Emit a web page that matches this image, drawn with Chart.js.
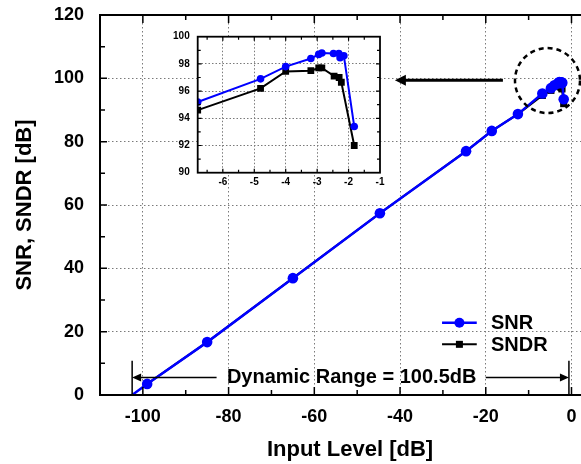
<!DOCTYPE html>
<html><head><meta charset="utf-8">
<script src="https://cdn.jsdelivr.net/npm/chart.js@4.4.1/dist/chart.umd.min.js"></script>
<style>
html,body{margin:0;padding:0;background:#fff;overflow:hidden;width:581px;height:464px;}
#wrap{position:relative;width:581px;height:464px;overflow:hidden;}
#main{position:absolute;left:0;top:0;}
#inset{position:absolute;left:150px;top:25px;}
</style></head><body>
<div id="wrap"><canvas id="main" width="640" height="464"></canvas><canvas id="inset" width="240" height="170"></canvas></div>
<script>
// ---- data ----
const snrLevel  = [-102.5, -99, -85, -65, -44.7, -24.6, -18.6, -12.5, -6.8, -4.8, -4.0, -3.2, -2.95, -2.85, -2.48, -2.31, -2.27, -2.15, -1.82];
const snrValue  = [0, 3.5, 16.7, 36.9, 57.4, 77.0, 83.4, 88.7, 95.2, 96.9, 97.8, 98.4, 98.7, 98.8, 98.77, 98.77, 98.45, 98.6, 93.4];
const sndrLevel = [-99, -85, -65, -44.7, -24.6, -18.6, -12.5, -6.8, -4.8, -4.0, -3.2, -2.95, -2.85, -2.46, -2.3, -2.23, -1.82];
const sndrValue = [3.5, 16.7, 36.9, 57.4, 77.0, 83.4, 88.7, 94.6, 96.2, 97.45, 97.5, 97.7, 97.7, 97.1, 97.0, 96.65, 92.0];
const mainXTicks = [-100, -80, -60, -40, -20, 0];
const mainYTicks = [0, 20, 40, 60, 80, 100, 120];
const insetXTicks = [-6, -5, -4, -3, -2, -1];
const insetYTicks = [90, 92, 94, 96, 98, 100];
const seriesNames = ['SNR', 'SNDR'];
const axisTitles = {x: 'Input Level [dB]', y: 'SNR, SNDR [dB]'};
const rangeText = 'Dynamic Range = 100.5dB';

const FONT = "'Liberation Sans', Arial, sans-serif";
Chart.defaults.font.family = FONT;
Chart.defaults.color = '#000';
const BLUE = '#0000ff';
const GRID = '#7a7a7a';
const pts = (xs, ys) => xs.map((x, i) => ({x, y: ys[i]}));
const setTicks = list => s => { s.ticks = list.map(v => ({value: v})); };
const fixW = w => s => { s.width = w; s.paddingTop = 0; s.paddingBottom = 0; s.paddingLeft = 0; s.paddingRight = 0; };
const fixH = h => s => { s.height = h; s.paddingTop = 0; s.paddingBottom = 0; s.paddingLeft = 0; s.paddingRight = 0; };

function arrowH(ctx, x1, x2, y, head, half, lw) {
  const dir = Math.sign(x2 - x1);
  ctx.lineWidth = lw;
  ctx.beginPath(); ctx.moveTo(x1, y); ctx.lineTo(x2 - dir * head * 0.8, y); ctx.stroke();
  ctx.beginPath(); ctx.moveTo(x2, y); ctx.lineTo(x2 - dir * head, y - half); ctx.lineTo(x2 - dir * head, y + half); ctx.closePath(); ctx.fill();
}

const mainDeco = {
  id: 'mainDeco',
  afterDatasetsDraw(chart) {
    const {ctx, chartArea: a, scales: {x, y}} = chart;
    ctx.save();
    ctx.strokeStyle = '#000'; ctx.fillStyle = '#000';
    ctx.lineWidth = 2;
    ctx.strokeRect(a.left, a.top, a.right - a.left, a.bottom - a.top);
    ctx.lineWidth = 1.5;
    ctx.beginPath();
    for (let v = -100; v <= 0; v += 10) {
      const px = x.getPixelForValue(v);
      const len = v % 20 === 0 ? 8 : 5;
      ctx.moveTo(px, a.bottom); ctx.lineTo(px, a.bottom - len);
      ctx.moveTo(px, a.top); ctx.lineTo(px, a.top + len);
    }
    for (let v = 10; v <= 110; v += 10) {
      const py = y.getPixelForValue(v);
      const len = v % 20 === 0 ? 7 : 5;
      ctx.moveTo(a.left, py); ctx.lineTo(a.left + len, py);
      ctx.moveTo(a.right, py); ctx.lineTo(a.right - len, py);
    }
    ctx.stroke();

    // dynamic range annotation
    const yDR = y.getPixelForValue(5.5);
    const yTop = y.getPixelForValue(10.8);
    const xL = x.getPixelForValue(-102.5), xR = x.getPixelForValue(-0.6);
    ctx.lineWidth = 1.5;
    ctx.beginPath();
    ctx.moveTo(xL, yTop); ctx.lineTo(xL, a.bottom);
    ctx.moveTo(xR, yTop); ctx.lineTo(xR, a.bottom);
    ctx.stroke();
    arrowH(ctx, x.getPixelForValue(-82.8), xL, yDR, 9, 4, 1.5);
    arrowH(ctx, x.getPixelForValue(-20), xR, yDR, 9, 4, 1.5);
    ctx.font = 'bold 20px ' + FONT;
    ctx.textBaseline = 'middle'; ctx.textAlign = 'left';
    ctx.fillText(rangeText, x.getPixelForValue(-80.4), yDR);

    // big arrow and dashed circle
    const yA = y.getPixelForValue(99.4);
    arrowH(ctx, x.getPixelForValue(-16), x.getPixelForValue(-41.2), yA, 11, 5.5, 3);
    ctx.setLineDash([5, 4]); ctx.lineWidth = 2.5;
    ctx.beginPath();
    ctx.arc(x.getPixelForValue(-5.6), y.getPixelForValue(99.3), 32.5, 0, Math.PI * 2);
    ctx.stroke();
    ctx.setLineDash([]);

    // legend
    const lx1 = x.getPixelForValue(-30.2), lx2 = x.getPixelForValue(-22.1), lxm = (lx1 + lx2) / 2;
    const ly1 = y.getPixelForValue(22.8), ly2 = y.getPixelForValue(16.0);
    ctx.strokeStyle = BLUE; ctx.fillStyle = BLUE; ctx.lineWidth = 2.5;
    ctx.beginPath(); ctx.moveTo(lx1, ly1); ctx.lineTo(lx2, ly1); ctx.stroke();
    ctx.beginPath(); ctx.arc(lxm, ly1, 5, 0, Math.PI * 2); ctx.fill();
    ctx.strokeStyle = '#000'; ctx.fillStyle = '#000'; ctx.lineWidth = 2;
    ctx.beginPath(); ctx.moveTo(lx1, ly2); ctx.lineTo(lx2, ly2); ctx.stroke();
    ctx.fillRect(lxm - 3.5, ly2 - 3.5, 7, 7);
    ctx.font = 'bold 20px ' + FONT;
    const tx = x.getPixelForValue(-18.8);
    ctx.fillText(seriesNames[0], tx, ly1 + 1);
    ctx.fillText(seriesNames[1], tx, ly2 + 1);
    ctx.restore();
  }
};

new Chart(document.getElementById('main'), {
  type: 'line',
  data: {
    datasets: [
      {label: seriesNames[0], data: pts(snrLevel, snrValue), borderColor: BLUE, backgroundColor: BLUE,
       borderWidth: 2.5, pointRadius: c => (c.raw && c.raw.y === 0 ? 0 : 5.3), pointBorderWidth: 0, pointStyle: 'circle', tension: 0},
      {label: seriesNames[1], data: pts(sndrLevel, sndrValue), borderColor: '#000', backgroundColor: '#000',
       borderWidth: 2, pointRadius: 5, pointBorderWidth: 0, pointStyle: 'rect', tension: 0}
    ]
  },
  options: {
    responsive: false, animation: false, devicePixelRatio: 1,
    layout: {padding: {left: 0, top: 15, right: 40, bottom: 0}},
    plugins: {legend: {display: false}, tooltip: {enabled: false}},
    scales: {
      x: {type: 'linear', min: -110, max: 6.65,
        afterBuildTicks: setTicks(mainXTicks),
        afterFit: fixH(69),
        ticks: {autoSkip: false, maxRotation: 0, padding: 11,
          font: {size: 18, weight: 'bold'}, color: '#000',
          callback: v => Math.round(v)},
        grid: {drawTicks: false, lineWidth: 1, color: GRID},
        border: {display: false, dash: [1.5, 2.5]},
        title: {display: true, text: axisTitles.x, font: {size: 22, weight: 'bold'}, color: '#000', padding: {top: 0, bottom: 1}}
      },
      y: {type: 'linear', min: 0, max: 120,
        afterBuildTicks: setTicks(mainYTicks),
        afterFit: fixW(100),
        ticks: {autoSkip: false, padding: 16,
          font: {size: 18, weight: 'bold'}, color: '#000',
          callback: v => Math.round(v)},
        grid: {drawTicks: false, lineWidth: 1,
          color: c => (c.tick && c.tick.value > 0 && c.tick.value < 120) ? GRID : 'transparent'},
        border: {display: false, dash: [1.5, 2.5]},
        title: {display: true, text: axisTitles.y, font: {size: 22, weight: 'bold'}, color: '#000', padding: {top: 12, bottom: 0}}
      }
    }
  },
  plugins: [mainDeco]
});

// ---- inset ----
const insetDeco = {
  id: 'insetDeco',
  beforeDraw(chart) {
    const {ctx, chartArea: a} = chart;
    ctx.save(); ctx.fillStyle = '#fff';
    ctx.fillRect(a.left, a.top, a.right - a.left, a.bottom - a.top);
    ctx.restore();
  },
  afterDatasetsDraw(chart) {
    const {ctx, chartArea: a, scales: {x, y}} = chart;
    ctx.save();
    ctx.strokeStyle = '#000'; ctx.lineWidth = 1.8;
    ctx.strokeRect(a.left, a.top, a.right - a.left, a.bottom - a.top);
    ctx.lineWidth = 1.2;
    ctx.beginPath();
    for (let v = -6.5; v <= -1.4; v += 0.5) {
      const px = x.getPixelForValue(v);
      const len = Number.isInteger(v) ? 4 : 3;
      ctx.moveTo(px, a.bottom); ctx.lineTo(px, a.bottom - len);
      ctx.moveTo(px, a.top); ctx.lineTo(px, a.top + len);
    }
    for (let v = 91; v <= 99; v += 1) {
      const py = y.getPixelForValue(v);
      const len = v % 2 === 0 ? 4 : 3;
      ctx.moveTo(a.left, py); ctx.lineTo(a.left + len, py);
      ctx.moveTo(a.right, py); ctx.lineTo(a.right - len, py);
    }
    ctx.stroke();
    ctx.restore();
  }
};
const inRange = (xs, ys) => pts(xs, ys).filter(p => p.x >= -7);

new Chart(document.getElementById('inset'), {
  type: 'line',
  data: {
    datasets: [
      {label: seriesNames[0], data: inRange(snrLevel, snrValue), borderColor: BLUE, backgroundColor: BLUE,
       borderWidth: 2, pointRadius: 3.8, pointBorderWidth: 0, pointStyle: 'circle', tension: 0},
      {label: seriesNames[1], data: inRange(sndrLevel, sndrValue), borderColor: '#000', backgroundColor: '#000',
       borderWidth: 2, pointRadius: 4.8, pointBorderWidth: 0, pointStyle: 'rect', tension: 0}
    ]
  },
  options: {
    responsive: false, animation: false, devicePixelRatio: 1,
    layout: {padding: {left: 0, top: 11.7, right: 10, bottom: 0}},
    plugins: {legend: {display: false}, tooltip: {enabled: false}},
    scales: {
      x: {type: 'linear', min: -6.8, max: -1,
        afterBuildTicks: setTicks(insetXTicks),
        afterFit: fixH(22.3),
        ticks: {autoSkip: false, maxRotation: 0, padding: 4,
          font: {size: 10, weight: 'bold'}, color: '#000',
          callback: v => Math.round(v)},
        grid: {drawTicks: false, lineWidth: 1,
          color: c => (c.tick && c.tick.value < -1.5) ? GRID : 'transparent'},
        border: {display: false, dash: [1.5, 2]}
      },
      y: {type: 'linear', min: 90, max: 100,
        afterBuildTicks: setTicks(insetYTicks),
        afterFit: fixW(47.7),
        ticks: {autoSkip: false, padding: 8,
          font: {size: 10, weight: 'bold'}, color: '#000',
          callback: v => Math.round(v)},
        grid: {drawTicks: false, lineWidth: 1,
          color: c => (c.tick && c.tick.value > 90.5 && c.tick.value < 99.5) ? GRID : 'transparent'},
        border: {display: false, dash: [1.5, 2]}
      }
    }
  },
  plugins: [insetDeco]
});
</script>
</body></html>
